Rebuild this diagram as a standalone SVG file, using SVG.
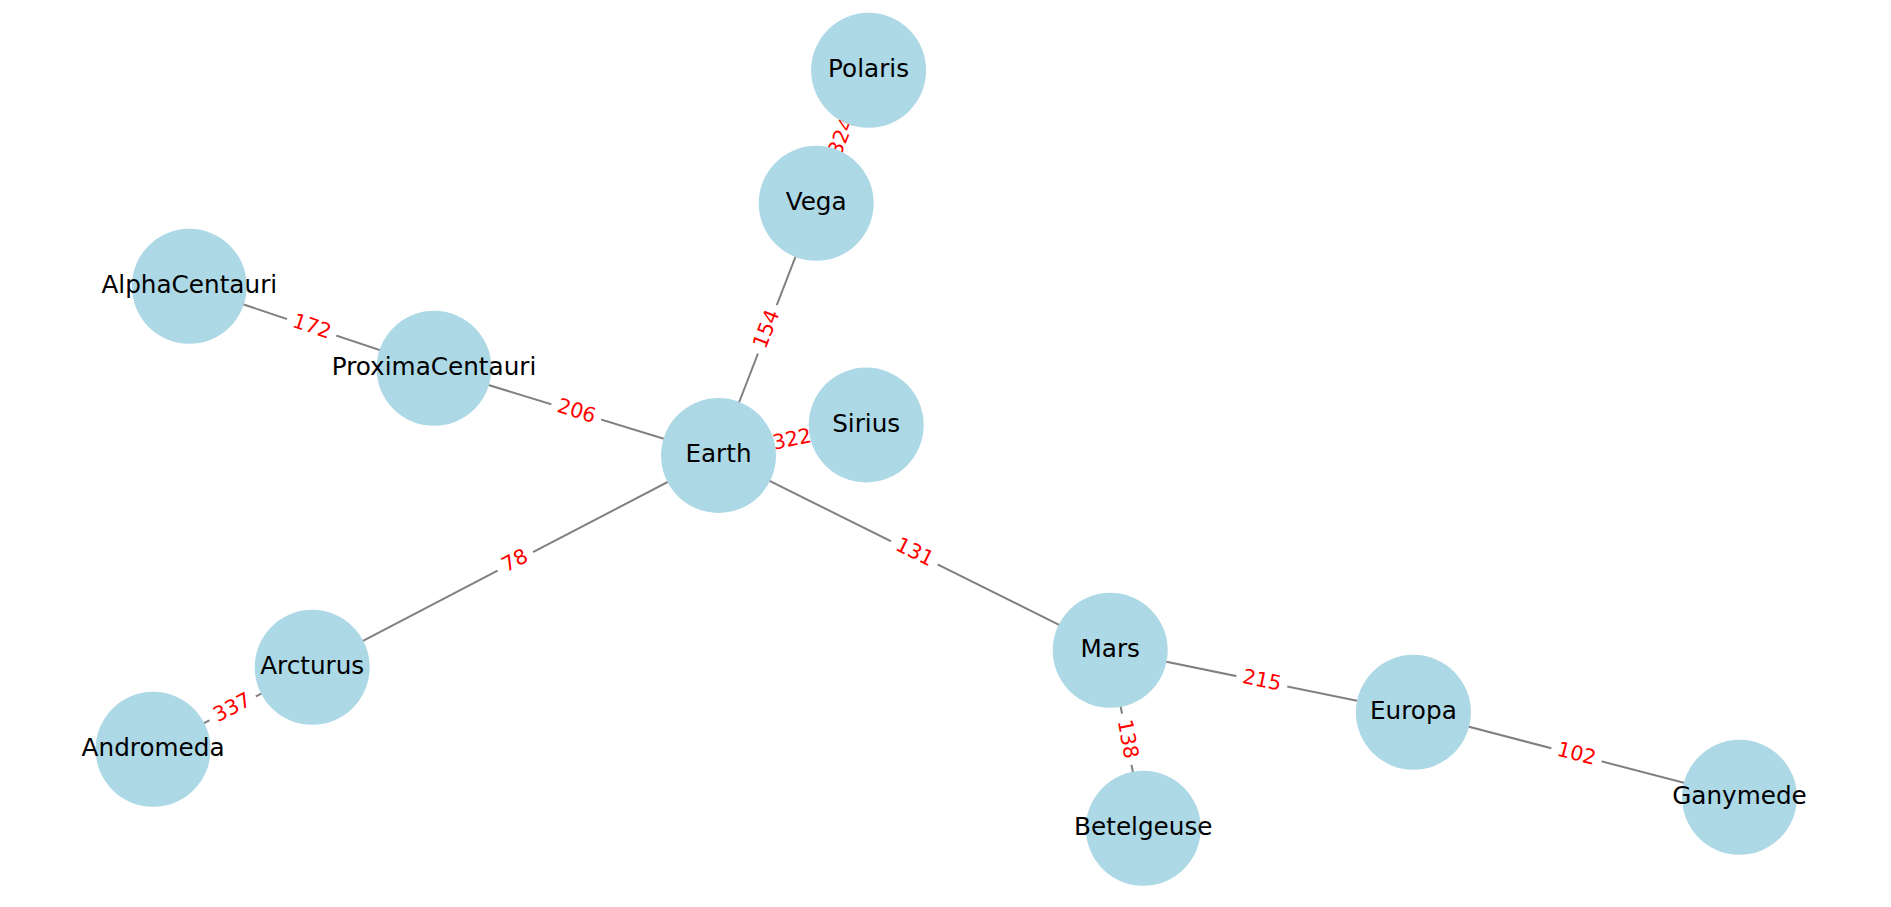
<svg xmlns="http://www.w3.org/2000/svg" width="1891" height="907" viewBox="0 0 1891 907">
<style>
.edge{stroke:#808080;stroke-width:2;fill:none}
.node circle{fill:#ADD8E6}
.node text{font-family:"DejaVu Sans",sans-serif;font-size:24.7px;fill:#000;text-anchor:middle}
.elabel rect{fill:#fff}
.elabel text{font-family:"DejaVu Sans",sans-serif;font-size:20.5px;fill:#FF0000;text-anchor:middle}
</style>
<rect width="1891" height="907" fill="#fff"/>
<g id="connectors">
<line class="edge" x1="868.6" y1="70.3" x2="816.2" y2="203.3"/>
<line class="edge" x1="816.2" y1="203.3" x2="718.5" y2="455.5"/>
<line class="edge" x1="189.3" y1="286.3" x2="434" y2="368.3"/>
<line class="edge" x1="434" y1="368.3" x2="718.5" y2="455.5"/>
<line class="edge" x1="718.5" y1="455.5" x2="866.2" y2="425"/>
<line class="edge" x1="718.5" y1="455.5" x2="312.2" y2="667.3"/>
<line class="edge" x1="718.5" y1="455.5" x2="1110.2" y2="650.3"/>
<line class="edge" x1="312.2" y1="667.3" x2="153.1" y2="749.3"/>
<line class="edge" x1="1110.2" y1="650.3" x2="1413.4" y2="712.3"/>
<line class="edge" x1="1110.2" y1="650.3" x2="1143.3" y2="828.3"/>
<line class="edge" x1="1413.4" y1="712.3" x2="1739.5" y2="797.3"/>
</g>
<g id="edge-labels">
<g class="elabel" transform="translate(842.4,136.8) rotate(-68.5)"><rect x="-26" y="-16" width="52" height="32" rx="4"/><text y="5.6">324</text></g>
<g class="elabel" transform="translate(767.35,329.4) rotate(-68.8)"><rect x="-26" y="-16" width="52" height="32" rx="4"/><text y="5.6">154</text></g>
<g class="elabel" transform="translate(311.65,327.3) rotate(18.5)"><rect x="-26" y="-16" width="52" height="32" rx="4"/><text y="5.6">172</text></g>
<g class="elabel" transform="translate(576.25,411.9) rotate(17.0)"><rect x="-26" y="-16" width="52" height="32" rx="4"/><text y="5.6">206</text></g>
<g class="elabel" transform="translate(792.35,440.25) rotate(-11.7)"><rect x="-26" y="-16" width="52" height="32" rx="4"/><text y="5.6">322</text></g>
<g class="elabel" transform="translate(515.35,561.4) rotate(-27.5)"><rect x="-20" y="-16" width="40" height="32" rx="4"/><text y="5.6">78</text></g>
<g class="elabel" transform="translate(914.35,552.9) rotate(26.4)"><rect x="-26" y="-16" width="52" height="32" rx="4"/><text y="5.6">131</text></g>
<g class="elabel" transform="translate(232.65,708.3) rotate(-27.3)"><rect x="-26" y="-16" width="52" height="32" rx="4"/><text y="5.6">337</text></g>
<g class="elabel" transform="translate(1261.8,681.3) rotate(11.6)"><rect x="-26" y="-16" width="52" height="32" rx="4"/><text y="5.6">215</text></g>
<g class="elabel" transform="translate(1126.75,739.3) rotate(79.5)"><rect x="-26" y="-16" width="52" height="32" rx="4"/><text y="5.6">138</text></g>
<g class="elabel" transform="translate(1576.45,754.8) rotate(14.6)"><rect x="-26" y="-16" width="52" height="32" rx="4"/><text y="5.6">102</text></g>
</g>
<g id="node-Polaris" class="node"><circle cx="868.6" cy="70.3" r="57.5"/><text x="868.6" y="77">Polaris</text></g>
<g id="node-Vega" class="node"><circle cx="816.2" cy="203.3" r="57.5"/><text x="816.2" y="210">Vega</text></g>
<g id="node-AlphaCentauri" class="node"><circle cx="189.3" cy="286.3" r="57.5"/><text x="189.3" y="293">AlphaCentauri</text></g>
<g id="node-ProximaCentauri" class="node"><circle cx="434" cy="368.3" r="57.5"/><text x="434" y="375">ProximaCentauri</text></g>
<g id="node-Earth" class="node"><circle cx="718.5" cy="455.5" r="57.5"/><text x="718.5" y="462.2">Earth</text></g>
<g id="node-Sirius" class="node"><circle cx="866.2" cy="425" r="57.5"/><text x="866.2" y="431.7">Sirius</text></g>
<g id="node-Arcturus" class="node"><circle cx="312.2" cy="667.3" r="57.5"/><text x="312.2" y="674">Arcturus</text></g>
<g id="node-Andromeda" class="node"><circle cx="153.1" cy="749.3" r="57.5"/><text x="153.1" y="756">Andromeda</text></g>
<g id="node-Mars" class="node"><circle cx="1110.2" cy="650.3" r="57.5"/><text x="1110.2" y="657">Mars</text></g>
<g id="node-Europa" class="node"><circle cx="1413.4" cy="712.3" r="57.5"/><text x="1413.4" y="719">Europa</text></g>
<g id="node-Betelgeuse" class="node"><circle cx="1143.3" cy="828.3" r="57.5"/><text x="1143.3" y="835">Betelgeuse</text></g>
<g id="node-Ganymede" class="node"><circle cx="1739.5" cy="797.3" r="57.5"/><text x="1739.5" y="804">Ganymede</text></g>
</svg>
